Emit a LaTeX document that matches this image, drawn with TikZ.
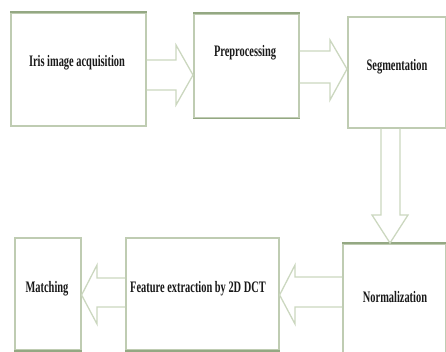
\documentclass[tikz,border=0pt]{standalone}
\usepackage{fontspec}
\newfontfamily\stagefont[FakeStretch=0.65]{Liberation Serif}
\definecolor{boxline}{HTML}{BFCCB2}
\definecolor{boxedge}{HTML}{94A883}
\definecolor{arrowline}{HTML}{CBD7BF}
\begin{document}
\begin{tikzpicture}[x=1pt,y=-1pt,
  box/.style={draw=boxline, line width=1.6pt, fill=white, anchor=north west, inner sep=0pt},
  edge/.style={draw=boxedge, line width=1.8pt},
  blockarrow/.style={draw=arrowline, line width=1.3pt, line join=miter},
  stage/.style={font=\stagefont\bfseries\fontsize{16}{18}\selectfont, inner sep=0pt, text=black!90}]
\useasboundingbox (0,0) rectangle (446,352);

% processing stages
\node[box, minimum width=135pt, minimum height=113pt] (acq)  at (10,12)  {};
\node[box, minimum width=105pt, minimum height=104pt] (pre)  at (193,13) {};
\node[box, minimum width=98pt,  minimum height=111pt] (seg)  at (347,16) {};
\node[box, minimum width=103pt, minimum height=112pt] (norm) at (342,243) {};
\node[box, minimum width=153pt, minimum height=112pt] (feat) at (125,237) {};
\node[box, minimum width=66pt,  minimum height=112pt] (match) at (14,237) {};

% darker rules along some box edges
\draw[edge] (acq.north west) -- (acq.north east);
\draw[edge] (pre.north west) -- (pre.north east);
\draw[edge] (pre.south west) -- (pre.south east);
\draw[edge] (norm.north west) -- (norm.north east);
\draw[edge] (feat.south west) -- (feat.south east);
\draw[edge] (match.south west) -- (match.south east);

% stage labels
\node[stage] (tacq)  at (77,63)   {Iris image acquisition};
\node[stage] (tpre)  at (245,53)  {Preprocessing};
\node[stage] (tseg)  at (397,67)  {Segmentation};
\node[stage] (tnorm) at (395,297) {Normalization};
\node[stage] (tfeat) at (198,289) {Feature extraction by 2D DCT};
\node[stage] (tmat)  at (47,289)  {Matching};

% hollow block arrows between stages
\draw[blockarrow] (acq.east |- 0,60) -- (176,60) -- (176,45)
  -- (pre.west |- 0,75) -- (176,105) -- (176,90) -- (acq.east |- 0,90);
\draw[blockarrow] (pre.east |- 0,51) -- (330,51) -- (330,40)
  -- (seg.west |- 0,69) -- (330,100) -- (330,83) -- (pre.east |- 0,83);
\draw[blockarrow] (381,0 |- seg.south) -- (381,215) -- (372,215)
  -- (390,0 |- norm.north) -- (408,215) -- (400,215) -- (400,0 |- seg.south);
\draw[blockarrow] (norm.west |- 0,277) -- (295,277) -- (295,265)
  -- (feat.east |- 0,295) -- (295,324) -- (295,307) -- (norm.west |- 0,307);
\draw[blockarrow] (feat.west |- 0,278) -- (97,278) -- (97,265)
  -- (match.east |- 0,295) -- (97,324) -- (97,307) -- (feat.west |- 0,307);
\end{tikzpicture}
\end{document}
